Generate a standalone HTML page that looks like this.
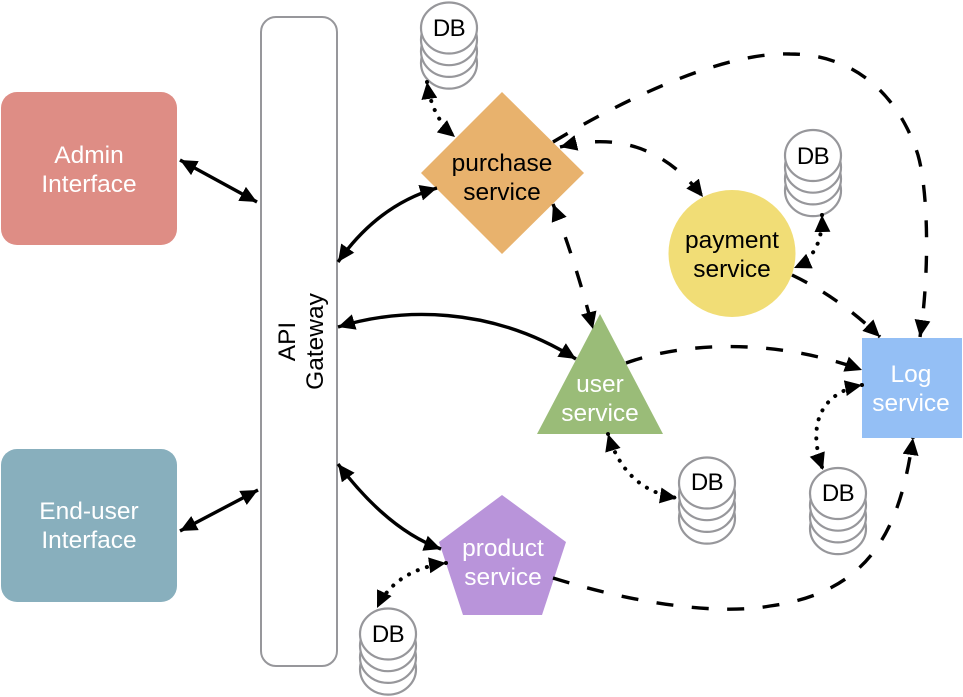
<!DOCTYPE html>
<html><head><meta charset="utf-8">
<style>
html,body{margin:0;padding:0;background:#fff;width:963px;height:697px;overflow:hidden}
svg{display:block}
text{font-family:"Liberation Sans",sans-serif;font-size:24.5px;text-anchor:middle}
.d{font-size:24px;letter-spacing:-.5px}
.w{fill:#fff}
.k{fill:#000}
.db ellipse{fill:#fff;stroke:#97979b;stroke-width:2.2}
.s{fill:none;stroke:#000;stroke-width:3.4;marker-start:url(#a);marker-end:url(#a)}
.dash{fill:none;stroke:#000;stroke-width:3.4;stroke-dasharray:17 18.5;marker-end:url(#a)}
.dash2{fill:none;stroke:#000;stroke-width:3.4;stroke-dasharray:17 18.5;marker-start:url(#a);marker-end:url(#a)}
.dot{fill:none;stroke:#000;stroke-width:4;stroke-linecap:round;stroke-dasharray:.1 9.6;marker-start:url(#a);marker-end:url(#a)}
</style></head><body>
<svg width="963" height="697" viewBox="0 0 963 697" xmlns="http://www.w3.org/2000/svg">
<defs>
<marker id="a" markerUnits="userSpaceOnUse" markerWidth="20" markerHeight="18" refX="17" refY="8" orient="auto-start-reverse"><path d="M0 0L17 8L0 16Z" fill="#000"/></marker>
<g id="db" class="db">
<ellipse cx="29" cy="61.1" rx="28" ry="25.5"/><ellipse cx="29" cy="49.4" rx="28" ry="25.5"/><ellipse cx="29" cy="37.7" rx="28" ry="25.5"/><ellipse cx="29" cy="26" rx="28" ry="25.5"/>
</g>
</defs>

<rect x="1" y="92" width="176" height="153" rx="16" fill="#de8d85"/>
<text class="w" x="89" y="163">Admin</text><text class="w" x="89" y="192">Interface</text>
<rect x="1" y="449" width="176" height="153" rx="16" fill="#88afbd"/>
<text class="w" x="89" y="519">End-user</text><text class="w" x="89" y="548">Interface</text>

<rect x="261" y="17" width="76" height="649" rx="15" fill="#fff" stroke="#97979b" stroke-width="2"/>
<text class="k" transform="translate(295,341.5) rotate(-90)">API</text>
<text class="k" transform="translate(323,341.5) rotate(-90)">Gateway</text>

<path d="M502 92L584 173L502 254L421 173Z" fill="#e8b26d"/>
<text class="k" x="502" y="171">purchase</text><text class="k" x="502" y="200">service</text>
<circle cx="732" cy="253.5" r="63.5" fill="#f1dd76"/>
<text class="k" x="732" y="248">payment</text><text class="k" x="732" y="277">service</text>
<path d="M600 314L663 434H537Z" fill="#9abc78"/>
<text class="w" x="600" y="392">user</text><text class="w" x="600" y="421">service</text>
<path d="M502 495L566 542L542 615H463L439 542Z" fill="#b994da"/>
<text class="w" x="503" y="556">product</text><text class="w" x="503" y="585">service</text>
<rect x="862" y="338" width="100" height="100" fill="#94bff5"/>
<text class="w" x="911" y="382">Log</text><text class="w" x="911" y="411">service</text>

<use href="#db" x="420" y="2"/><text class="k d" x="449" y="36">DB</text>
<use href="#db" x="784" y="129.5"/><text class="k d" x="813" y="164">DB</text>
<use href="#db" x="678" y="457"/><text class="k d" x="707" y="490">DB</text>
<use href="#db" x="809" y="467.5"/><text class="k d" x="838" y="501">DB</text>
<use href="#db" x="359" y="608"/><text class="k d" x="388" y="642">DB</text>

<path class="s" d="M180 160L257 202"/>
<path class="s" d="M180 531L258 490"/>
<path class="s" d="M338 262Q378 205 437 188"/>
<path class="s" d="M338 327C400 308 490 305 576 359"/>
<path class="s" d="M338 464Q388 530 441 549"/>

<path class="dash" d="M553 142C640 90 730 52 790 54C850 54 897 90 918 155C928 190 930 270 920 337"/>
<path class="dash2" d="M560 147C600 137 655 135 703 197"/>
<path class="dash2" d="M553 204Q575 260 593 329"/>
<path class="dash" d="M792 275Q840 298 880 337"/>
<path class="dash" d="M626 363C690 340 780 340 862 370"/>
<path class="dash" d="M553 578C640 605 720 615 770 606C870 592 900 530 913 438"/>

<path class="dot" d="M427 82Q432 118 455 137"/>
<path class="dot" d="M822 215Q823 255 794 268"/>
<path class="dot" d="M608 434Q625 490 677 498"/>
<path class="dot" d="M862 385C825 392 805 420 823 470"/>
<path class="dot" d="M446 563Q395 570 377 608"/>
</svg>
</body></html>
